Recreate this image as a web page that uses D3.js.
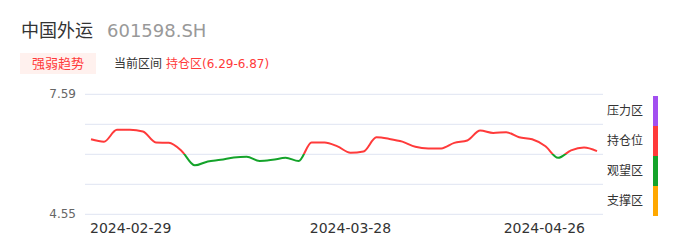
<!DOCTYPE html>
<html>
<head>
<meta charset="utf-8">
<script src="https://cdn.jsdelivr.net/npm/d3@7"></script>
<style>
  body { margin: 0; background: #fff; font-family: "DejaVu Sans", "Noto Sans CJK SC", sans-serif; }
  svg { display: block; }
</style>
</head>
<body>
<div id="chart"></div>
<script>
const stockName = "中国外运";
const stockCode = "601598.SH";
const tabLabel = "强弱趋势";
const rangeLabel = "当前区间";
const rangeValue = "持仓区(6.29-6.87)";

const dates = [
    "2024-02-29", "2024-03-01", "2024-03-04", "2024-03-05", "2024-03-06", "2024-03-07", "2024-03-08",
    "2024-03-11", "2024-03-12", "2024-03-13", "2024-03-14", "2024-03-15",
    "2024-03-18", "2024-03-19", "2024-03-20", "2024-03-21", "2024-03-22",
    "2024-03-25", "2024-03-26", "2024-03-27", "2024-03-28", "2024-03-29",
    "2024-04-01", "2024-04-02", "2024-04-03",
    "2024-04-08", "2024-04-09", "2024-04-10", "2024-04-11", "2024-04-12",
    "2024-04-15", "2024-04-16", "2024-04-17", "2024-04-18", "2024-04-19",
    "2024-04-22", "2024-04-23", "2024-04-24", "2024-04-25", "2024-04-26"
];
const values = [
    6.45, 6.39, 6.69, 6.69, 6.65, 6.37, 6.36,
    6.15, 5.79, 5.89, 5.93, 5.99,
    6.01, 5.90, 5.93, 5.98, 5.90,
    6.37, 6.37, 6.27, 6.11, 6.14,
    6.50, 6.46, 6.39,
    6.26, 6.22, 6.22, 6.36, 6.42,
    6.67, 6.61, 6.63, 6.50, 6.45,
    6.28, 5.98, 6.17, 6.24, 6.15
];
const yTicks = [7.59, 6.83, 6.07, 5.31, 4.55];
const yLabels = ["7.59", "", "", "", "4.55"];
const xLabels = ["2024-02-29", "2024-03-28", "2024-04-26"];
const threshold = 6.07;
const zoneNames = ["压力区", "持仓位", "观望区", "支撑区"];
const zoneColors = ["#a24ff0", "#ff3a3a", "#14a32a", "#ffa800"];

const W = 686, H = 247;
const svg = d3.select("#chart").append("svg")
    .attr("width", W)
    .attr("height", H);

// header
svg.append("text").attr("x", 21).attr("y", 36.5)
    .attr("font-size", 18).attr("fill", "#333")
    .text(stockName);
svg.append("text").attr("x", 107).attr("y", 36.5)
    .attr("font-size", 18).attr("fill", "#999")
    .text(stockCode);

svg.append("rect").attr("x", 20).attr("y", 53).attr("width", 76).attr("height", 21)
    .attr("fill", "#fff1ee");
svg.append("text").attr("x", 58).attr("y", 63.5)
    .attr("font-size", 13).attr("fill", "#ff3a3a")
    .attr("text-anchor", "middle").attr("dominant-baseline", "central")
    .text(tabLabel);
svg.append("text").attr("x", 114).attr("y", 63.5)
    .attr("font-size", 12).attr("fill", "#333")
    .attr("dominant-baseline", "central")
    .text(rangeLabel);
svg.append("text").attr("x", 166).attr("y", 63.5)
    .attr("font-size", 12).attr("fill", "#ff3a3a")
    .attr("dominant-baseline", "central")
    .text(rangeValue);

// scales
const x = d3.scalePoint().domain(dates).range([91, 597]);
const y = d3.scaleLinear().domain([4.55, 7.59]).range([214.3, 94.3]);

const g = svg.append("g");

g.selectAll(".grid").data(yTicks).enter().append("line")
    .attr("class", "grid")
    .attr("x1", 85).attr("x2", 603)
    .attr("y1", d => y(d)).attr("y2", d => y(d))
    .attr("stroke", "#dfe4f2").attr("stroke-width", 1);

g.selectAll(".ylab").data(yTicks).enter().append("text")
    .attr("class", "ylab")
    .attr("x", 76).attr("y", d => y(d))
    .attr("text-anchor", "end").attr("dominant-baseline", "central")
    .attr("font-size", 12).attr("fill", "#666")
    .text((d, i) => yLabels[i]);

g.selectAll(".xlab").data(xLabels).enter().append("text")
    .attr("class", "xlab")
    .attr("x", (d, i) => i === 0 ? x(d) - 1 : i === xLabels.length - 1 ? x(d) - 12 : x(d))
    .attr("y", 233)
    .attr("text-anchor", (d, i) => i === 0 ? "start" : i === xLabels.length - 1 ? "end" : "middle")
    .attr("font-size", 14).attr("fill", "#333")
    .text(d => d);

// line coloured above / below threshold
const ty = y(threshold);
const grad = svg.append("defs").append("linearGradient")
    .attr("id", "lineGrad")
    .attr("gradientUnits", "userSpaceOnUse")
    .attr("x1", 0).attr("x2", 0).attr("y1", 0).attr("y2", H);
grad.append("stop").attr("offset", ty / H).attr("stop-color", zoneColors[1]);
grad.append("stop").attr("offset", ty / H).attr("stop-color", zoneColors[2]);

const line = d3.line()
    .x((d, i) => x(dates[i]))
    .y(d => y(d))
    .curve(d3.curveMonotoneX);

g.append("path")
    .datum(values)
    .attr("d", line)
    .attr("fill", "none")
    .attr("stroke", "url(#lineGrad)")
    .attr("stroke-width", 2)
    .attr("stroke-linejoin", "round");

// zone legend
const band = d3.scaleBand().domain(zoneNames).range([96, 216]);
const legend = svg.append("g");
legend.selectAll(".zone").data(zoneNames).enter().append("rect")
    .attr("class", "zone")
    .attr("x", 653).attr("width", 5)
    .attr("y", d => band(d)).attr("height", band.bandwidth())
    .attr("fill", (d, i) => zoneColors[i]);
legend.selectAll(".zlab").data(zoneNames).enter().append("text")
    .attr("class", "zlab")
    .attr("x", 607).attr("y", d => band(d) + band.bandwidth() / 2)
    .attr("dominant-baseline", "central")
    .attr("font-size", 12).attr("fill", "#333")
    .text(d => d);
</script>
</body>
</html>
